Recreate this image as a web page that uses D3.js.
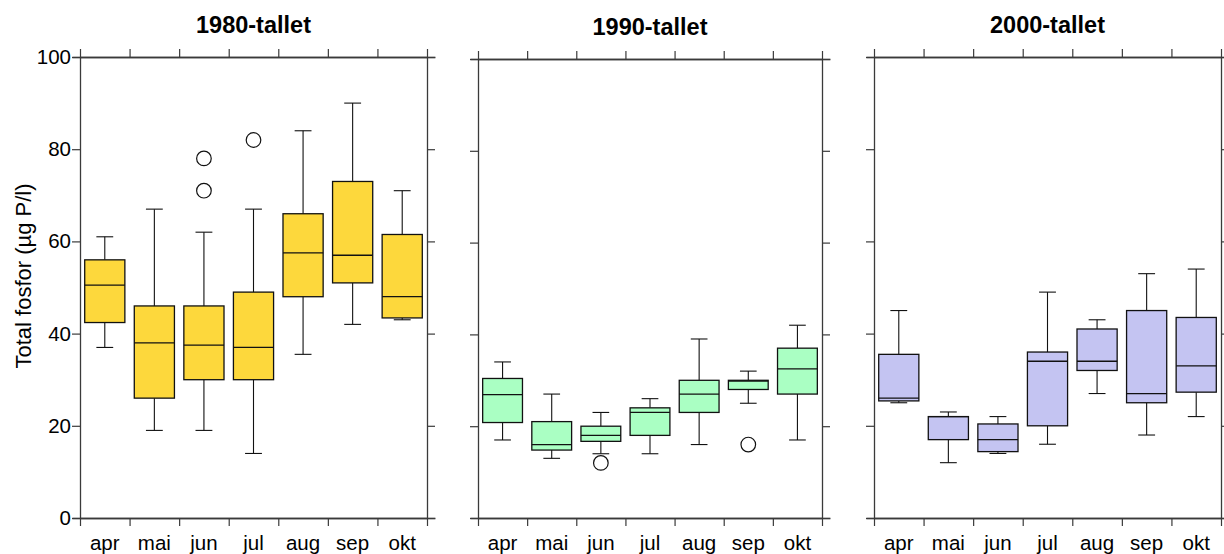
<!DOCTYPE html>
<html>
<head>
<meta charset="utf-8">
<script src="https://cdn.jsdelivr.net/npm/d3@7"></script>
<style>
  html, body { margin: 0; padding: 0; background: #fff; }
  svg { display: block; font-family: "Liberation Sans", Arial, sans-serif; }
</style>
</head>
<body>
<svg id="chart" width="1224" height="554"></svg>
<script>
// ---- data ----
const months = ["apr", "mai", "jun", "jul", "aug", "sep", "okt"];
const yTicks = [0, 20, 40, 60, 80, 100];
const decades = ["1980-tallet", "1990-tallet", "2000-tallet"];
const colors = ["#FDD83C", "#AAFFC3", "#C4C4F2"];

// [whiskerLow, Q1, median, Q3, whiskerHigh] per month
const stats1980 = [
  [37, 42.4, 50.5, 56, 61],
  [19, 26, 38, 46, 67],
  [19, 30, 37.5, 46, 62],
  [14, 30, 37, 49, 67],
  [35.5, 48, 57.5, 66, 84],
  [42, 51, 57, 73, 90],
  [43, 43.4, 48, 61.5, 71]
];
const outliers1980 = [[], [], [78, 71], [82], [], [], []];

const stats1990 = [
  [17, 20.8, 26.9, 30.4, 34],
  [13, 14.8, 16, 21, 27],
  [14, 16.7, 18, 20, 23],
  [14, 18, 23, 24, 26],
  [16, 23, 27, 30, 39],
  [25, 28, 29.8, 30, 32],
  [17, 27, 32.5, 37, 42]
];
const outliers1990 = [[], [], [12], [], [], [16], []];

const stats2000 = [
  [25, 25.4, 26, 35.5, 45],
  [12, 17, 22, 22, 23],
  [14, 14.4, 17, 20.4, 22],
  [16, 20, 34, 36, 49],
  [27, 32, 34, 41, 43],
  [18, 25, 27, 45, 53],
  [22, 27.3, 33, 43.5, 54]
];
const outliers2000 = [[], [], [], [], [], [], []];

const allStats = [stats1980, stats1990, stats2000];
const allOutliers = [outliers1980, outliers1990, outliers2000];

// ---- layout ----
const panels = [
  { x0: 80, x1: 427, top: 57, bottom: 518, titleY: 33 },
  { x0: 478, x1: 822, top: 59, bottom: 518, titleY: 35 },
  { x0: 874, x1: 1221, top: 57, bottom: 518, titleY: 33 }
];

const svg = d3.select("#chart");
const axisColor = "#3a3a3a";
const tickLen = 8;

panels.forEach((p, i) => {
  const g = svg.append("g");
  const y = d3.scaleLinear().domain([0, 100]).range([p.bottom, p.top]);
  const xb = d3.scaleBand().domain(months).range([p.x0, p.x1]).padding(0);
  const xl = d3.scaleLinear().domain([0, months.length]).range([p.x0, p.x1]);
  const bw = xb.bandwidth();
  const boxW = bw * 0.81;
  const capW = bw * 0.34;

  // title
  g.append("text")
    .attr("x", (p.x0 + p.x1) / 2)
    .attr("y", p.titleY)
    .attr("text-anchor", "middle")
    .attr("font-size", 23.5)
    .attr("font-weight", "bold")
    .attr("fill", "#000")
    .text(decades[i]);

  // boxes
  const stats = allStats[i];
  const outs = allOutliers[i];
  months.forEach((m, j) => {
    const [lo, q1, med, q3, hi] = stats[j];
    const cx = xb(m) + bw / 2;
    const bg = g.append("g");
    // whiskers
    bg.append("line").attr("x1", cx).attr("x2", cx).attr("y1", y(q3)).attr("y2", y(hi))
      .attr("stroke", "#111").attr("stroke-width", 1.1);
    bg.append("line").attr("x1", cx).attr("x2", cx).attr("y1", y(q1)).attr("y2", y(lo))
      .attr("stroke", "#111").attr("stroke-width", 1.1);
    bg.append("line").attr("x1", cx - capW / 2).attr("x2", cx + capW / 2).attr("y1", y(hi)).attr("y2", y(hi))
      .attr("stroke", "#111").attr("stroke-width", 1.1);
    bg.append("line").attr("x1", cx - capW / 2).attr("x2", cx + capW / 2).attr("y1", y(lo)).attr("y2", y(lo))
      .attr("stroke", "#111").attr("stroke-width", 1.1);
    // box
    bg.append("rect")
      .attr("x", cx - boxW / 2).attr("width", boxW)
      .attr("y", y(q3)).attr("height", y(q1) - y(q3))
      .attr("fill", colors[i]).attr("stroke", "#111").attr("stroke-width", 1.3);
    // median
    bg.append("line").attr("x1", cx - boxW / 2).attr("x2", cx + boxW / 2).attr("y1", y(med)).attr("y2", y(med))
      .attr("stroke", "#111").attr("stroke-width", 1.3);
    // outliers
    outs[j].forEach(v => {
      bg.append("circle").attr("cx", cx).attr("cy", y(v)).attr("r", 7.3)
        .attr("fill", "#fff").attr("stroke", "#111").attr("stroke-width", 1.2);
    });
  });

  // axes (ticks outward on all sides)
  const styleAxis = sel => {
    sel.selectAll(".domain").attr("stroke", axisColor).attr("stroke-width", 1.3);
    sel.selectAll(".tick line").attr("stroke", axisColor).attr("stroke-width", 1.2);
  };
  const leftAx = d3.axisLeft(y).tickValues(yTicks).tickSize(tickLen).tickSizeOuter(0).tickPadding(1);
  if (i !== 0) leftAx.tickFormat("");
  const lg = g.append("g").attr("transform", `translate(${p.x0},0)`).call(leftAx);
  lg.selectAll("text").attr("font-size", 20.5).attr("fill", "#000").attr("font-family", "Liberation Sans, Arial, sans-serif");
  styleAxis(lg);

  const rg = g.append("g").attr("transform", `translate(${p.x1},0)`)
    .call(d3.axisRight(y).tickValues(yTicks).tickSize(tickLen).tickSizeOuter(0).tickFormat(""));
  styleAxis(rg);

  const tg = g.append("g").attr("transform", `translate(0,${p.top})`)
    .call(d3.axisTop(xl).tickValues(d3.range(months.length + 1)).tickSize(tickLen).tickSizeOuter(0).tickFormat(""));
  styleAxis(tg);

  const bg2 = g.append("g").attr("transform", `translate(0,${p.bottom})`)
    .call(d3.axisBottom(xl).tickValues(d3.range(months.length + 1)).tickSize(tickLen).tickSizeOuter(0).tickFormat(""));
  styleAxis(bg2);

  // extend horizontal frame lines by tick length on both sides
  [p.top, p.bottom].forEach(yy => {
    g.append("line").attr("x1", p.x0 - tickLen + 0.5).attr("x2", p.x1 + tickLen + 0.5)
      .attr("y1", yy + 0.5).attr("y2", yy + 0.5)
      .attr("stroke", axisColor).attr("stroke-width", 1.3);
  });

  // month labels
  const lab = g.append("g").attr("transform", `translate(0,${p.bottom})`)
    .call(d3.axisBottom(xb).tickSize(0).tickPadding(0));
  lab.select(".domain").remove();
  lab.selectAll("text").attr("font-size", 20.5).attr("fill", "#000")
    .attr("font-family", "Liberation Sans, Arial, sans-serif")
    .attr("y", 32).attr("dy", 0);
});

// y-axis title
svg.append("text")
  .attr("transform", "translate(31,276) rotate(-90)")
  .attr("text-anchor", "middle")
  .attr("font-size", 22)
  .attr("fill", "#000")
  .text("Total fosfor (µg P/l)");
</script>
</body>
</html>
